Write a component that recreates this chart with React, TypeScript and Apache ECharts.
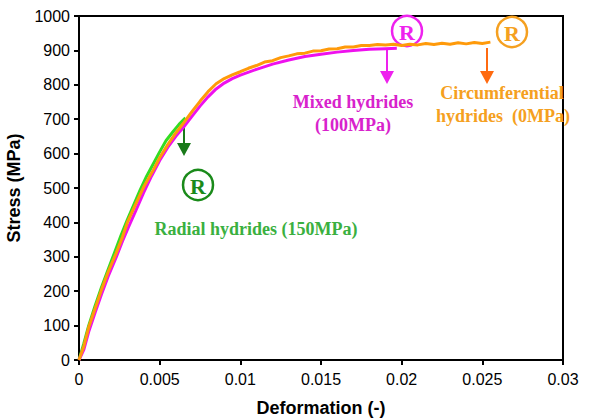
import React, { useEffect, useRef } from "react";
import * as echarts from "echarts";

const xTicks = { min: 0, max: 0.03, interval: 0.005 };
const yTicks = { min: 0, max: 1000, interval: 100 };

const radialHydrides: [number, number][] = [
  [0, 0], [0.0003, 48], [0.0006, 100], [0.001, 158], [0.0014, 212], [0.0018, 262],
  [0.0022, 312], [0.0026, 362], [0.003, 408], [0.0034, 452], [0.0038, 495],
  [0.0042, 535], [0.0046, 570], [0.005, 605], [0.0054, 638], [0.0058, 662],
  [0.0062, 685], [0.0066, 704],
];

const mixedHydrides: [number, number][] = [
  [0, 0], [0.0003, 30], [0.0006, 82], [0.001, 138], [0.0014, 192], [0.0018, 242],
  [0.0023, 298], [0.0027, 346], [0.0031, 390], [0.0035, 432], [0.004, 486],
  [0.0045, 535], [0.005, 580], [0.0055, 618], [0.006, 650], [0.0065, 678],
  [0.007, 708], [0.0075, 738], [0.008, 765], [0.0085, 788], [0.009, 805],
  [0.0095, 818], [0.01, 828], [0.011, 845], [0.012, 860], [0.013, 872],
  [0.014, 882], [0.015, 889], [0.016, 895], [0.017, 900], [0.018, 903],
  [0.019, 905], [0.0197, 906],
];

const circumferentialHydrides: [number, number][] = [
  [0, 0], [0.0003, 40], [0.0006, 95], [0.001, 150], [0.0014, 205], [0.0018, 255],
  [0.0023, 310], [0.0027, 358], [0.003, 400], [0.0035, 452], [0.004, 502],
  [0.0046, 552], [0.005, 588], [0.0055, 626], [0.006, 660], [0.0065, 690],
  [0.007, 722], [0.0075, 752], [0.008, 780], [0.0085, 803], [0.009, 818],
  [0.0095, 829], [0.01, 838], [0.0105, 848], [0.011, 856], [0.0115, 866],
  [0.012, 870], [0.0125, 879], [0.013, 884], [0.0135, 890], [0.014, 892],
  [0.0145, 898], [0.015, 899], [0.0155, 904], [0.016, 905], [0.0165, 910],
  [0.017, 910], [0.0175, 914], [0.018, 914], [0.0185, 917], [0.019, 916],
  [0.0195, 918], [0.02, 914], [0.0205, 918], [0.021, 916], [0.0215, 920],
  [0.022, 917], [0.0225, 921], [0.023, 918], [0.0235, 922], [0.024, 919],
  [0.0245, 923], [0.025, 920], [0.0255, 924],
];

const seriesNames = ["Radial hydrides (150MPa)", "Mixed hydrides (100MPa)", "Circumferential hydrides (0MPa)"];

const serif = "'Liberation Serif', 'Times New Roman', serif";
const sans = "'Liberation Sans', Arial, sans-serif";

function circledR(cx: number, cy: number, color: string) {
  return [
    { type: "circle", shape: { cx, cy, r: 15 }, style: { fill: "#fff", stroke: color, lineWidth: 2.5 } },
    {
      type: "text",
      x: cx,
      y: cy + 1,
      style: { text: "R", fill: color, font: `bold 22px ${serif}`, align: "center", verticalAlign: "middle" },
    },
  ];
}

function arrow(x: number, y1: number, y2: number, color: string) {
  return [
    { type: "line", shape: { x1: x, y1, x2: x, y2: y2 - 12 }, style: { stroke: color, lineWidth: 2 } },
    { type: "polygon", shape: { points: [[x - 7, y2 - 13], [x + 7, y2 - 13], [x, y2]] }, style: { fill: color } },
  ];
}

function label(x: number, y: number, text: string, color: string, align = "center") {
  return {
    type: "text",
    x,
    y,
    style: { text, fill: color, font: `bold 18px ${serif}`, align, verticalAlign: "middle" },
  };
}

export default function App() {
  const ref = useRef<HTMLDivElement>(null);
  useEffect(() => {
    document.body.style.margin = "0";
    if (!ref.current) return;
    const chart = echarts.init(ref.current, undefined, { renderer: "svg" });
    const mkSeries = (name: string, data: [number, number][], color: string, z: number) => ({
      name,
      type: "line",
      data,
      showSymbol: false,
      symbol: "none",
      z,
      lineStyle: { color, width: 3 },
    });
    chart.setOption({
      animation: false,
      backgroundColor: "#fff",
      grid: {
        left: 79, top: 16, right: 28, bottom: 59,
        containLabel: false, outerBoundsMode: "none",
        show: true, borderColor: "#000", borderWidth: 2,
      },
      xAxis: {
        type: "value",
        ...xTicks,
        name: "Deformation (-)",
        nameLocation: "middle",
        nameGap: 39,
        nameTextStyle: { fontFamily: sans, fontWeight: "bold", fontSize: 18, color: "#000" },
        axisLine: { show: true, lineStyle: { color: "#000", width: 2 } },
        axisTick: { show: true, inside: false, length: 5, lineStyle: { color: "#000", width: 2 } },
        axisLabel: { fontFamily: sans, fontSize: 16, color: "#000", margin: 11, formatter: (v: number) => String(v) },
        splitLine: { show: false },
      },
      yAxis: {
        type: "value",
        ...yTicks,
        name: "Stress (MPa)",
        nameLocation: "middle",
        nameGap: 56,
        nameTextStyle: { fontFamily: sans, fontWeight: "bold", fontSize: 18, color: "#000" },
        axisLine: { show: true, lineStyle: { color: "#000", width: 2 } },
        axisTick: { show: true, inside: false, length: 5, lineStyle: { color: "#000", width: 2 } },
        axisLabel: { fontFamily: sans, fontSize: 16, color: "#000", margin: 9, formatter: (v: number) => String(v) },
        splitLine: { show: false },
      },
      series: [
        mkSeries(seriesNames[0], radialHydrides, "#33dd22", 2),
        mkSeries(seriesNames[1], mixedHydrides, "#ee11ee", 3),
        mkSeries(seriesNames[2], circumferentialHydrides, "#ff9a0a", 4),
      ],
      graphic: [
        ...circledR(407, 31, "#ee22ee"),
        ...circledR(512, 32, "#f5a020"),
        ...circledR(198, 185, "#1a8a1a"),
        ...arrow(387, 48, 84, "#ee22ee"),
        ...arrow(487, 48, 84, "#ff6a10"),
        ...arrow(184, 118, 156, "#1a7a1a"),
        label(353, 102, "Mixed hydrides", "#d822cc"),
        label(353, 125, "(100MPa)", "#d822cc"),
        label(502, 93, "Circumferential", "#f5a020"),
        label(503, 116, "hydrides  (0MPa)", "#f5a020"),
        label(256, 229, "Radial hydrides (150MPa)", "#3ab040"),
      ],
    });
    return () => chart.dispose();
  }, []);
  return <div ref={ref} style={{ width: 591, height: 419 }} />;
}
